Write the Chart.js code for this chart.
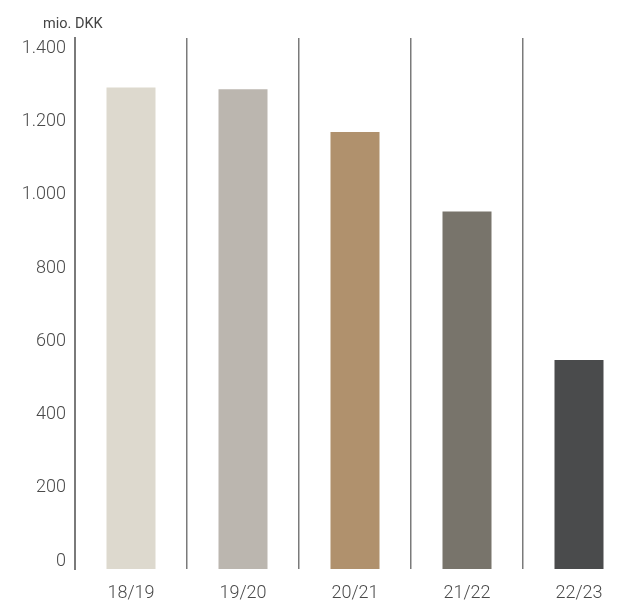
<!DOCTYPE html>
<html>
<head>
<meta charset="utf-8">
<script src="https://cdn.jsdelivr.net/npm/chart.js@4/dist/chart.umd.min.js"></script>
<style>
  html, body { margin: 0; padding: 0; background: #fff; overflow: hidden; }
  #wrap { width: 640px; height: 603px; }
</style>
</head>
<body>
<div id="wrap"><canvas id="chart" width="640" height="603"></canvas></div>
<script>
const seasons = ["18/19", "19/20", "20/21", "21/22", "22/23"];
const amounts = [1315, 1310, 1193, 976, 571];
const barColors = ["#ddd9ce", "#bbb6af", "#b0916d", "#78746b", "#4a4b4c"];
const yTicks = [0, 200, 400, 600, 800, 1000, 1200, 1400];
const unitLabel = "mio. DKK";

const fmt = (v) => String(v).replace(/\B(?=(\d{3})+(?!\d))/g, ".");

// small plugin for the unit text above the axis
const unitText = {
  id: "unitText",
  afterDraw(chart) {
    const ctx = chart.ctx;
    ctx.save();
    ctx.font = "400 14.5px Roboto";
    ctx.fillStyle = "#444";
    ctx.textAlign = "left";
    ctx.textBaseline = "middle";
    ctx.fillText(unitLabel, chart.chartArea.left - 32, chart.chartArea.top - 14);
    ctx.restore();
  }
};

const chart = new Chart(document.getElementById("chart"), {
  type: "bar",
  data: {
    labels: seasons,
    datasets: [{
      data: amounts,
      backgroundColor: barColors,
      borderWidth: 0,
      barPercentage: 1,
      categoryPercentage: 0.4375
    }]
  },
  options: {
    responsive: false,
    animation: false,
    layout: { padding: { top: 38, right: 5, bottom: 0, left: 0 } },
    plugins: {
      legend: { display: false },
      tooltip: { enabled: false }
    },
    scales: {
      x: {
        offset: true,
        grid: { display: true, offset: true, drawTicks: false, color: "#7a7a7a", lineWidth: 1.5 },
        border: { display: false },
        ticks: { color: "#4a4a4a", font: { family: "Roboto", weight: "300", size: 18 }, padding: 14 },
        afterFit: (scale) => { scale.height = 34; }
      },
      y: {
        min: 0,
        max: 1450,
        grid: { display: false, drawTicks: false },
        border: { display: true, color: "#7a7a7a", width: 2 },
        ticks: {
          stepSize: 200,
          padding: 9,
          labelOffset: -8,
          color: "#4a4a4a",
          font: { family: "Roboto", weight: "300", size: 18 },
          callback: (v) => fmt(v)
        },
        afterBuildTicks: (scale) => {
          scale.ticks = yTicks.map((v) => ({ value: v }));
        },
        afterFit: (scale) => { scale.width = 75; }
      }
    }
  },
  plugins: [unitText]
});
</script>
</body>
</html>
